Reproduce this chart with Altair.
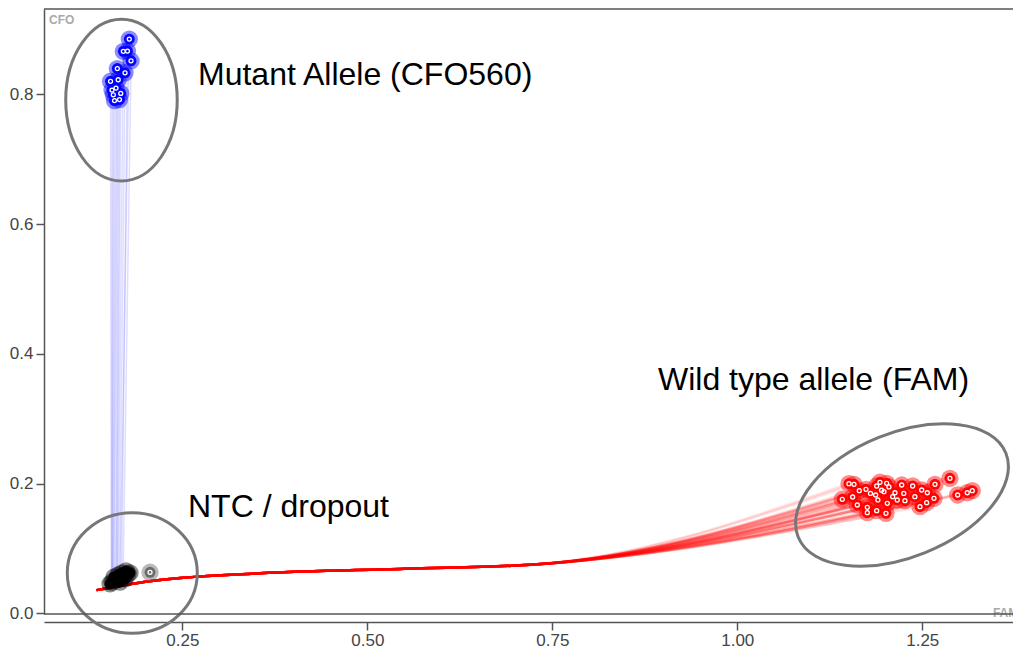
import altair as alt
import pandas as pd

# ---- data ----
# Wild type (FAM) end points
red_x = [1.1509, 1.1577, 1.1649, 1.1739, 1.1419, 1.1559, 1.1622, 1.1757, 1.1757, 1.1884,
         1.1928, 1.2019, 1.1870, 1.1982, 1.2131, 1.2222, 1.1884, 1.2009, 1.2027, 1.2162,
         1.2266, 1.2370, 1.2492, 1.2568, 1.2672, 1.2658, 1.2559, 1.2469, 1.2874, 1.2978,
         1.3108, 1.3176, 1.1950, 1.2050, 1.2100, 1.1900, 1.1800, 1.2250, 1.2400]
red_y = [0.2000, 0.1991, 0.1892, 0.1914, 0.1760, 0.1795, 0.1672, 0.1636, 0.1553, 0.1965,
         0.2022, 0.2006, 0.1826, 0.1877, 0.1861, 0.1980, 0.1584, 0.1544, 0.1698, 0.1749,
         0.1738, 0.1965, 0.1903, 0.1861, 0.1991, 0.1775, 0.1707, 0.1646, 0.2083, 0.1826,
         0.1861, 0.1892, 0.1900, 0.1950, 0.1800, 0.1750, 0.1850, 0.1850, 0.1800]
# shared early trajectory of the FAM wells
red_path_x = [0.134, 0.200, 0.355, 0.550, 0.720]
red_path_y = [0.036, 0.049, 0.062, 0.069, 0.075]

# Mutant (CFO560) end points and trajectory starts
blue_x = [0.1784, 0.1703, 0.1759, 0.1807, 0.1622, 0.1726, 0.1634, 0.1530, 0.1604, 0.1668,
          0.1568, 0.1584, 0.1651, 0.1550]
blue_y = [0.8852, 0.8663, 0.8667, 0.8518, 0.8398, 0.8333, 0.8226, 0.8202, 0.8097, 0.8015,
          0.7994, 0.7904, 0.7920, 0.8066]
blue_x0 = [0.166, 0.163, 0.168, 0.170, 0.158, 0.165, 0.160, 0.154, 0.157, 0.162,
           0.155, 0.156, 0.161, 0.155]
blue_y0 = [0.052, 0.050, 0.053, 0.055, 0.048, 0.051, 0.049, 0.046, 0.048, 0.050,
           0.047, 0.047, 0.049, 0.046]

# NTC / dropout
ntc_x = [0.1550, 0.1604, 0.1658, 0.1712, 0.1766, 0.1577, 0.1631, 0.1685, 0.1739, 0.1793,
         0.1523, 0.1658, 0.1726]
ntc_y = [0.0485, 0.0516, 0.0547, 0.0578, 0.0609, 0.0562, 0.0593, 0.0624, 0.0655, 0.0624,
         0.0455, 0.0485, 0.0532]
drop_x = [0.2064]
drop_y = [0.0635]

# annotation ellipses (center, size, aspect, rotation)
ell_name = ["mutant", "ntc", "wild"]
ell_x = [0.1678, 0.1824, 1.2226]
ell_y = [0.7912, 0.0624, 0.1826]
ell_size = [26115, 16900, 50176]
ell_angle = [0, 0, 338]
ell_path = [
    "M -0.69,0 A 0.69,1 0 1,0 0.69,0 A 0.69,1 0 1,0 -0.69,0 Z",
    "M -1,0 A 1,0.928 0 1,0 1,0 A 1,0.928 0 1,0 -1,0 Z",
    "M -1,0 A 1,0.554 0 1,0 1,0 A 1,0.554 0 1,0 -1,0 Z",
]

labels = ["Mutant Allele (CFO560)", "NTC / dropout", "Wild type allele (FAM)"]
label_x = [0.2712, 0.2577, 0.8928]
label_y = [0.8297, 0.1641, 0.3598]

# ---- tables ----
rows = []
for i, (ex, ey) in enumerate(zip(red_x, red_y)):
    for k, (px, py) in enumerate(zip(red_path_x, red_path_y)):
        rows.append({"well": f"r{i}", "k": k, "x": px, "y": py})
    rows.append({"well": f"r{i}", "k": len(red_path_x), "x": ex, "y": ey})
red_lines = pd.DataFrame(rows)

rows = []
for i in range(len(blue_x)):
    rows.append({"well": f"b{i}", "k": 0, "x": blue_x0[i], "y": blue_y0[i]})
    rows.append({"well": f"b{i}", "k": 1, "x": blue_x[i], "y": blue_y[i]})
blue_lines = pd.DataFrame(rows)

red_pts = pd.DataFrame({"x": red_x, "y": red_y})
blue_pts = pd.DataFrame({"x": blue_x, "y": blue_y})
ntc_pts = pd.DataFrame({"x": ntc_x, "y": ntc_y})
drop_pts = pd.DataFrame({"x": drop_x, "y": drop_y})
ell = pd.DataFrame({"name": ell_name, "x": ell_x, "y": ell_y, "size": ell_size, "angle": ell_angle})
lab = pd.DataFrame({"t": labels, "x": label_x, "y": label_y})
corner = pd.DataFrame({"t": ["CFO", "FAM"], "x": [0.0699, 1.3455], "y": [0.915, 0.0005]})

W, H = 969, 605
FONT = "Liberation Sans"
xs = alt.Scale(domain=[0.0631, 1.3726], nice=False, zero=False)
ys = alt.Scale(domain=[-0.0008, 0.9316], nice=False, zero=False)
axis_common = dict(title=None, grid=False, domainColor="#555", domainWidth=1.5,
                   tickColor="#555", tickWidth=1.5, tickSize=8, labelFontSize=17,
                   labelColor="#444", labelFont=FONT, labelFlush=False, labelOverlap=False)
X = alt.X("x:Q", scale=xs, axis=alt.Axis(values=[0.25, 0.5, 0.75, 1.0, 1.25], format=".2f",
                                          offset=8, labelPadding=2, **axis_common))
Y = alt.Y("y:Q", scale=ys, axis=alt.Axis(values=[0, 0.2, 0.4, 0.6, 0.8], format=".1f",
                                          labelPadding=3, **axis_common))

blue_line_l = alt.Chart(blue_lines).mark_line(color="#0000ff", opacity=0.13, strokeWidth=1.5).encode(
    x=X, y=Y, detail="well:N", order="k:Q")
red_line_l = alt.Chart(red_lines).mark_line(color="#ff0000", opacity=0.13, strokeWidth=2.5,
                                            interpolate="monotone").encode(
    x=X, y=Y, detail="well:N", order="k:Q")

def dots(df, color, ring=True):
    halo = alt.Chart(df).mark_circle(color=color, opacity=0.45, size=300).encode(x=X, y=Y)
    core = alt.Chart(df).mark_circle(color=color, opacity=0.95, size=120).encode(x=X, y=Y)
    layers = [halo, core]
    if ring:
        layers.append(alt.Chart(df).mark_point(shape="circle", filled=False, color="white",
                                                strokeWidth=1.3, size=16, opacity=1).encode(x=X, y=Y))
    return layers

ellipses = alt.Chart(ell).mark_point(filled=False, color="#777", strokeWidth=3, opacity=1).encode(
    x=X, y=Y,
    shape=alt.Shape("name:N", scale=alt.Scale(domain=ell_name, range=ell_path), legend=None),
    size=alt.Size("size:Q", scale=None, legend=None),
    angle=alt.Angle("angle:Q", scale=None),
)

texts = alt.Chart(lab).mark_text(align="left", baseline="middle", fontSize=32, font=FONT,
                                 color="black").encode(x=X, y=Y, text="t:N")
corner_txt = alt.Chart(corner).mark_text(align="left", baseline="middle", fontSize=12, font=FONT,
                                         fontWeight="bold", color="#aaa").encode(
    x=X, y=Y, text="t:N")

frame_data = alt.Data(values=[{"a": 1}])
top_rule = alt.Chart(frame_data).mark_rule(color="#555", strokeWidth=1.5).encode(
    x=alt.value(0), x2=alt.value(W), y=alt.value(0))
bot_rule = alt.Chart(frame_data).mark_rule(color="#555", strokeWidth=1.5).encode(
    x=alt.value(0), x2=alt.value(W), y=alt.value(H))

layers = [blue_line_l, red_line_l, ellipses]
layers += dots(red_pts, "#ff0000")
layers += dots(blue_pts, "#0000ff")
layers += dots(ntc_pts, "#000000", ring=False)
layers += dots(drop_pts, "#666666")
layers += [texts, corner_txt, top_rule, bot_rule]

chart = alt.layer(*layers).properties(
    width=W, height=H,
    autosize=alt.AutoSizeParams(type="none"),
    padding={"left": 44, "top": 9, "right": 0, "bottom": 37},
).configure_view(stroke=None)

chart.save("out.html", embed_options={"renderer": "svg", "actions": False})
